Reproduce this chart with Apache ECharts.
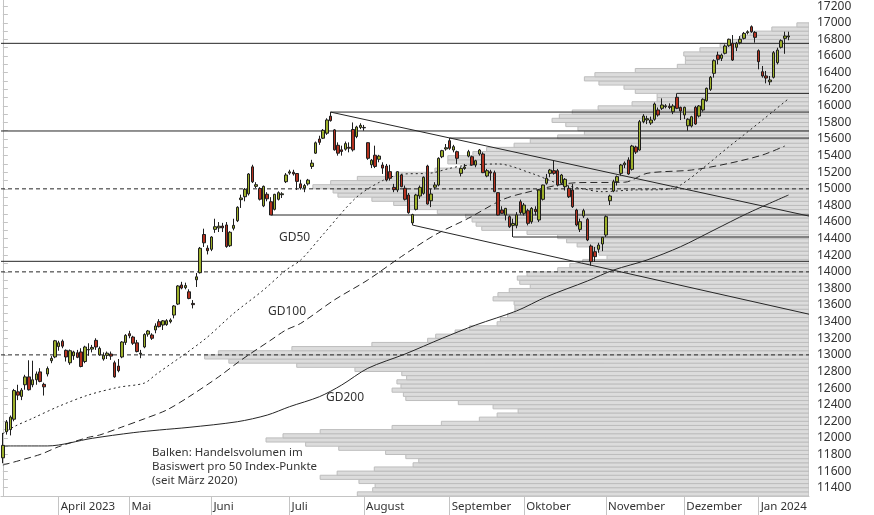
<!DOCTYPE html>
<html><head><meta charset="utf-8">
<script src="https://cdn.jsdelivr.net/npm/echarts@6/dist/echarts.min.js"></script>
<style>html,body{margin:0;padding:0;background:#fff}#c{width:874px;height:515px}</style>
</head><body><div id="c"></div>
<script>
// ---------- DATA ----------
const tradingDays = {
  '2023-03':[13,14,15,16,17,20,21,22,23,24,27,28,29,30,31],
  '2023-04':[3,4,5,6,10,11,12,13,14,17,18,19,20,21,24,25,26,27,28],
  '2023-05':[1,2,3,4,5,8,9,10,11,12,15,16,17,18,19,22,23,24,25,26,30,31],
  '2023-06':[1,2,5,6,7,8,9,12,13,14,15,16,20,21,22,23,26,27,28,29,30],
  '2023-07':[3,5,6,7,10,11,12,13,14,17,18,19,20,21,24,25,26,27,28,31],
  '2023-08':[1,2,3,4,7,8,9,10,11,14,15,16,17,18,21,22,23,24,25,28,29,30,31],
  '2023-09':[1,5,6,7,8,11,12,13,14,15,18,19,20,21,22,25,26,27,28,29],
  '2023-10':[2,3,4,5,6,9,10,11,12,13,16,17,18,19,20,23,24,25,26,27,30,31],
  '2023-11':[1,2,3,6,7,8,9,10,13,14,15,16,17,20,21,22,24,27,28,29,30],
  '2023-12':[1,4,5,6,7,8,11,12,13,14,15,18,19,20,21,22,26,27,28,29],
  '2024-01':[2,3,4,5,8,9,10,11,12]
};
const monthLabels = {'2023-04':'April 2023','2023-05':'Mai','2023-06':'Juni','2023-07':'Juli','2023-08':'August',
  '2023-09':'September','2023-10':'Oktober','2023-11':'November','2023-12':'Dezember','2024-01':'Jan 2024'};

const opens = [
 11760,12075,12100,12225,12555,12500,12640,12735,12640,12700,12795,12645,12770,12930,12975,
 13100,13165,13055,12905,12990,13025,13035,12920,13060,13070,13175,13000,12950,12995,13010,12905,12865,12975,13150,
 13255,13215,13145,13010,13095,13250,13240,13300,13400,13360,13365,13400,13480,13612,13842,13810,13760,13620,13905,13990,14450,14285,
 14272,14512,14530,14552,14565,14315,14525,14616,14870,14905,14940,15265,15030,15005,14795,14935,14845,14753,14874,14930,15086,
 15190,15200,15185,15060,15010,15060,15270,15430,15600,15610,15670,15875,15710,15525,15470,15478,15500,15715,15630,15740,
 15740,15556,15290,15405,15356,15287,15275,15207,15018,14986,15167,15007,14926,14590,14753,14914,14946,15275,14857,15020,15046,15387,15480,
 15580,15468,15448,15187,15245,15395,15387,15287,15420,15420,15155,15205,15195,14954,14745,14685,14665,14560,14560,14845,
 14705,14737,14604,14753,14625,14874,15067,15187,15219,15219,15067,15026,15007,14986,14745,14512,14673,14633,14311,14243,14272,14336,
 14444,14857,14974,15086,15187,15290,15348,15235,15504,15468,15809,15830,15793,15838,15950,15970,15990,15995,15929,16103,15982,
 15890,15760,15757,15982,15877,15950,16062,16199,16392,16612,16572,16633,16724,16753,16705,16761,16813,16880,16953,16885,
 16664,16411,16360,16290,16344,16520,16705,16813,16830];
const highs = [
 12060,12215,12270,12590,12640,12600,12760,12935,12930,12800,12840,12665,12860,12985,13180,
 13170,13185,13065,13065,13050,13060,13080,13110,13140,13120,13200,13100,13030,13040,13040,12930,12950,13165,13250,
 13290,13230,13180,13060,13260,13300,13260,13380,13430,13420,13430,13440,13600,13840,13880,13870,13790,13660,13986,14300,14520,14320,
 14430,14640,14600,14590,14600,14490,14640,14790,14930,15010,15190,15290,15080,15020,15040,14960,14900,14940,14970,14960,15190,
 15230,15230,15190,15110,15060,15120,15350,15570,15640,15720,15850,15925,15720,15560,15520,15570,15560,15800,15760,15790,
 15770,15560,15360,15520,15410,15320,15300,15290,15060,15210,15180,15040,14950,14700,14940,15040,15150,15290,15000,15080,15380,15470,15540,
 15612,15530,15460,15260,15300,15470,15400,15350,15480,15440,15240,15230,15220,14960,14790,14770,14680,14640,14720,14870,
 14830,14760,14780,14790,14990,15050,15180,15240,15339,15240,15180,15130,15040,15060,14760,14640,14760,14650,14330,14300,14350,14420,
 14680,14930,15110,15160,15300,15330,15380,15530,15520,15830,15900,15880,15870,16040,15980,16090,16020,16030,16020,16150,15990,
 15990,15850,15880,16000,16010,16090,16220,16360,16560,16652,16630,16740,16810,16853,16770,16840,16890,16910,16969,16900,
 16680,16480,16420,16360,16660,16700,16800,16893,16893];
const lows = [
 11695,12040,12030,12200,12455,12455,12580,12570,12610,12640,12670,12510,12740,12900,12960,
 13050,13080,12920,12880,12940,12960,12850,12900,12990,13030,13060,12990,12930,12950,12940,12725,12790,12960,13120,
 13200,13120,13030,12960,13080,13220,13180,13260,13330,13300,13350,13380,13440,13600,13790,13790,13670,13560,13818,13980,14300,14210,
 14250,14470,14480,14480,14290,14300,14500,14600,14770,14850,14920,15070,15010,14860,14780,14850,14685,14740,14860,14890,15070,
 15170,15160,14986,14990,14960,15040,15240,15420,15530,15600,15650,15810,15460,15400,15400,15460,15440,15450,15610,15720,
 15700,15350,15250,15250,15320,15180,15090,15100,14960,14960,15020,14860,14700,14564,14740,14880,14930,14810,14780,14990,15030,15370,15460,
 15470,15440,15300,15150,15230,15380,15280,15260,15400,15190,15140,15100,14960,14680,14700,14620,14530,14420,14525,14690,
 14680,14560,14580,14680,14600,14860,15050,15140,15170,15030,15060,14980,14890,14770,14550,14480,14650,14370,14075,14120,14230,14250,
 14420,14805,14960,15040,15160,15250,15170,15220,15420,15460,15790,15780,15770,15820,15870,15950,15970,15960,15900,15960,15829,
 15840,15700,15740,15770,15860,15930,16050,16180,16340,16500,16540,16620,16710,16540,16660,16740,16800,16860,16880,16761,
 16440,16340,16271,16250,16330,16500,16690,16627,16790];
const closes = [
 11910,12190,12250,12570,12515,12575,12735,12580,12700,12770,12680,12615,12835,12958,13170,
 13145,13105,12975,13050,13035,12970,12860,13095,13065,13090,13095,13078,12995,13020,12985,12735,12810,13155,13235,
 13230,13140,13040,13020,13245,13288,13200,13348,13340,13410,13412,13420,13589,13830,13805,13835,13680,13605,13940,14284,14350,14255,
 14420,14544,14550,14530,14305,14477,14560,14778,14890,14995,15179,15085,15050,14875,15030,14880,14685,14934,14954,14940,15167,
 15205,15180,15090,15010,15040,15105,15310,15555,15560,15705,15830,15822,15470,15430,15450,15545,15490,15470,15745,15765,
 15735,15368,15345,15270,15395,15250,15107,15127,14990,15207,15026,14874,14713,14690,14926,15018,15139,14817,14938,15046,15368,15460,15495,
 15488,15508,15368,15247,15262,15448,15287,15339,15468,15195,15219,15190,14966,14685,14705,14765,14544,14583,14686,14715,
 14805,14585,14765,14725,14986,15046,15127,15227,15187,15046,15167,15115,14905,14785,14565,14604,14737,14384,14122,14183,14323,14416,
 14665,14914,15086,15147,15287,15310,15179,15516,15443,15809,15877,15845,15829,16022,15890,16010,16000,15980,15998,15970,15938,
 15982,15838,15869,15781,15998,16079,16211,16344,16544,16560,16612,16721,16802,16552,16753,16802,16873,16893,16893,16825,
 16532,16360,16335,16311,16640,16672,16785,16841,16842];

const gd50 = [['2023-03-13',12050],['2023-03-16',12135],['2023-03-23',12236],['2023-04-03',12380],['2023-04-14',12517],
 ['2023-04-26',12609],['2023-05-05',12660],['2023-05-10',12760],['2023-05-30',13180],['2023-06-09',13500],['2023-06-22',13782],
 ['2023-06-30',14020],['2023-07-07',14143],['2023-07-17',14450],['2023-07-28',14900],['2023-08-08',15100],['2023-08-15',15175],
 ['2023-08-25',15190],['2023-09-01',15247],['2023-09-08',15280],['2023-09-21',15300],['2023-10-04',15187],['2023-10-13',15067],
 ['2023-10-23',15007],['2023-10-31',14966],['2023-11-10',14986],['2023-11-22',14990],['2023-11-30',15046],['2023-12-19',15508],
 ['2024-01-03',15829],['2024-01-12',16086]];
const gd100 = [['2023-03-13',11673],['2023-03-27',11800],['2023-04-03',11894],['2023-04-14',12007],['2023-04-19',12035],
 ['2023-04-26',12115],['2023-05-05',12230],['2023-05-15',12336],['2023-05-23',12496],['2023-06-05',12737],['2023-06-13',12938],
 ['2023-06-26',13179],['2023-06-30',13299],['2023-07-07',13380],['2023-07-20',13661],['2023-08-02',13902],['2023-08-15',14183],
 ['2023-08-28',14444],['2023-09-11',14645],['2023-09-22',14866],['2023-10-02',14950],['2023-10-20',15074],['2023-11-08',15080],
 ['2023-11-16',15187],['2023-12-05',15227],['2023-12-19',15307],['2024-01-03',15408],['2024-01-11',15516]];
const gd200 = [['2023-03-13',11903],['2023-03-29',11903],['2023-04-17',11995],['2023-05-02',12063],['2023-05-11',12095],
 ['2023-05-23',12127],['2023-06-12',12195],['2023-06-23',12275],['2023-07-03',12376],['2023-07-14',12496],['2023-07-24',12637],
 ['2023-08-02',12838],['2023-08-16',13010],['2023-08-30',13200],['2023-09-13',13360],['2023-09-28',13530],['2023-10-10',13700],
 ['2023-10-25',13890],['2023-11-03',14022],['2023-11-16',14143],['2023-11-30',14303],['2023-12-13',14504],['2023-12-27',14705],
 ['2024-01-12',14926]];

// horizontal levels across the whole chart
const levelsSolid = [16753, 15697, 14127];
const levelsDashed = [15000, 14000, 13000];
// horizontal levels starting at a candle and running to the right edge
const levelsFrom = [['2023-07-19',15925],['2023-09-01',15612],['2023-06-26',14685],['2023-09-27',14420],['2023-11-29',16150]];
// trend lines: start point and value reached at the right edge
const trendLines = [[['2023-07-19',15925],14672],[['2023-08-18',14564],13490]];

// volume profile: lower bound of each 50-point bucket and relative volume
const profileLow = [11300,11350,11400,11450,11500,11550,11600,11650,11700,11750,11800,11850,11900,11950,12000,12050,12100,12150,12200,12250,
 12300,12350,12400,12450,12500,12550,12600,12650,12700,12750,12800,12850,12900,12950,13000,13050,13100,13150,13200,13250,
 13300,13350,13400,13450,13500,13550,13600,13650,13700,13750,13800,13850,13900,13950,14000,14050,14100,14150,14200,14250,
 14300,14350,14400,14450,14500,14550,14600,14650,14700,14750,14800,14850,14900,14950,15000,15050,15100,15150,15200,15250,
 15300,15350,15400,15450,15500,15550,15600,15650,15700,15750,15800,15850,15900,15950,16000,16050,16100,16150,16200,16250,
 16300,16350,16400,16450,16500,16550,16600,16650,16700,16750,16800,16850,16900,16950];
const profileVol = [55.9,54.0,53.7,55.7,60.5,58.4,53.8,49.0,48.3,49.9,52.4,58.2,62.3,67.2,65.1,60.5,51.6,45.5,40.8,38.6,
 36.0,39.1,43.4,49.9,50.2,51.6,50.5,51.0,49.8,50.4,56.2,63.4,71.8,74.8,73.1,64.0,54.1,47.2,46.2,43.8,
 42.0,38.6,38.2,37.3,36.4,36.4,36.5,39.1,38.5,37.1,34.5,35.8,36.1,34.9,31.1,29.6,28.0,25.0,26.0,26.7,
 28.7,30.0,31.1,34.9,40.5,41.2,41.7,42.5,46.0,49.4,51.4,54.1,58.3,58.9,61.4,59.2,55.9,51.2,46.3,42.8,
 44.7,44.7,41.6,39.9,36.5,34.5,31.1,27.8,28.6,30.1,31.8,30.9,29.3,26.1,21.9,18.8,18.8,21.5,22.9,26.0,
 27.8,26.5,21.5,16.3,15.3,15.3,15.5,13.5,11.0,9.5,8.5,7.3,4.6,1.5];
const profileStep = 50;

const yLabels = [11400,11600,11800,12000,12200,12400,12600,12800,13000,13200,13400,13600,13800,14000,14200,14400,
 14600,14800,15000,15200,15400,15600,15800,16000,16200,16400,16600,16800,17000,17200];

// ---------- BUILD ----------
const dates = [];
Object.keys(tradingDays).forEach(m => tradingDays[m].forEach(d => dates.push(m + '-' + String(d).padStart(2,'0'))));
const cats = dates.concat(['','','','','']);
const lastX = cats.length - 0.5;
const idx = d => dates.indexOf(d);
const isMonthStart = (i) => i > 0 && i < dates.length && dates[i].slice(0,7) !== dates[i-1].slice(0,7);
const yTicks = [];
yLabels.forEach(v => { yTicks.push(v); if (v + 100 < 17275) yTicks.push(v + 100); });

const FONT = 'Noto Sans';
const lineCol = '#262626';
const series = [];

series.push({
  type: 'custom', xAxisIndex: 2, yAxisIndex: 0, z: 1, silent: true, clip: true,
  data: profileLow.map((lo, i) => [lo, profileVol[i]]),
  encode: {x: 1, y: 0},
  renderItem: (params, api) => {
    const lo = api.value(0), vol = api.value(1);
    const a = api.coord([0, lo]);
    const b = api.coord([vol, lo + profileStep]);
    return {type: 'rect', shape: {x: b[0], y: b[1], width: a[0] - b[0], height: a[1] - b[1]},
      style: {fill: '#dcdcdc', stroke: '#bdbdbd', lineWidth: 1}};
  }
});

function seg(data, type, z) {
  series.push({type: 'line', xAxisIndex: 1, yAxisIndex: 0, data, symbol: 'none', silent: true, z: z || 3,
    clip: true, lineStyle: {color: lineCol, width: 1, type: type || 'solid'}});
}
levelsSolid.forEach(v => seg([[-0.5, v], [lastX, v]]));
levelsDashed.forEach(v => seg([[-0.5, v], [lastX, v]], [4, 3]));
levelsFrom.forEach(([d, v]) => seg([[idx(d), v], [lastX, v]]));
trendLines.forEach(([[d, v], end]) => seg([[idx(d), v], [lastX, end]]));

function ma(points, type) {
  series.push({type: 'line', xAxisIndex: 1, yAxisIndex: 0, symbol: 'none', silent: true, z: 4, smooth: 0.3, clip: true,
    data: points.map(([d, v]) => [idx(d), v]), lineStyle: {color: lineCol, width: 1, type}});
}
ma(gd50, [2, 3]);
ma(gd100, [7, 4]);
ma(gd200, 'solid');

series.push({
  type: 'candlestick', xAxisIndex: 0, yAxisIndex: 0, z: 5, barWidth: 3,
  data: dates.map((d, i) => [opens[i], closes[i], lows[i], highs[i]]),
  itemStyle: {color: '#9db02a', color0: '#b5311f', borderColor: '#1e1e1e', borderColor0: '#1e1e1e', borderWidth: 1}
});

const chart = echarts.init(document.getElementById('c'), null, {renderer: 'canvas'});
chart.setOption({
  animation: false,
  backgroundColor: '#ffffff',
  grid: {left: 1, right: 65, top: 0, bottom: 19, containLabel: false},
  xAxis: [
    {type: 'category', gridIndex: 0, data: cats, boundaryGap: true,
     axisLine: {show: true, lineStyle: {color: '#c4c4c4'}},
     axisTick: {show: true, alignWithLabel: true, interval: isMonthStart, length: 19, lineStyle: {color: '#c4c4c4'}},
     axisLabel: {interval: isMonthStart, formatter: (v) => monthLabels[v.slice(0,7)] || '', align: 'left',
       color: '#333', fontSize: 11.5, fontFamily: FONT, margin: 5, padding: [0, 0, 0, 2]},
     splitLine: {show: false}},
    {type: 'value', gridIndex: 0, min: -0.5, max: lastX, show: false},
    {type: 'value', gridIndex: 0, min: 0, max: 100, inverse: true, show: false}
  ],
  yAxis: [{
    type: 'value', position: 'right', min: 11300, max: 17275, scale: true,
    axisLine: {show: true, lineStyle: {color: '#c4c4c4'}},
    axisTick: {show: true, customValues: yTicks, length: 5, lineStyle: {color: '#c4c4c4'}},
    axisLabel: {customValues: yLabels, formatter: (v) => String(v), color: '#333', fontSize: 12, fontFamily: FONT, margin: 8},
    splitLine: {show: false}
  }],
  series,
  graphic: [
    {type: 'text', left: 279, top: 232, z: 10, style: {text: 'GD50', fill: '#333', font: '12px "Noto Sans"'}},
    {type: 'text', left: 268, top: 306, z: 10, style: {text: 'GD100', fill: '#333', font: '12px "Noto Sans"'}},
    {type: 'text', left: 326, top: 392, z: 10, style: {text: 'GD200', fill: '#333', font: '12px "Noto Sans"'}},
    {type: 'text', left: 152, top: 446, z: 10, style: {text: 'Balken: Handelsvolumen im\nBasiswert pro 50 Index-Punkte\n(seit März 2020)',
      fill: '#333', font: '11.5px "Noto Sans"', lineHeight: 14}}
  ]
});
</script></body></html>
